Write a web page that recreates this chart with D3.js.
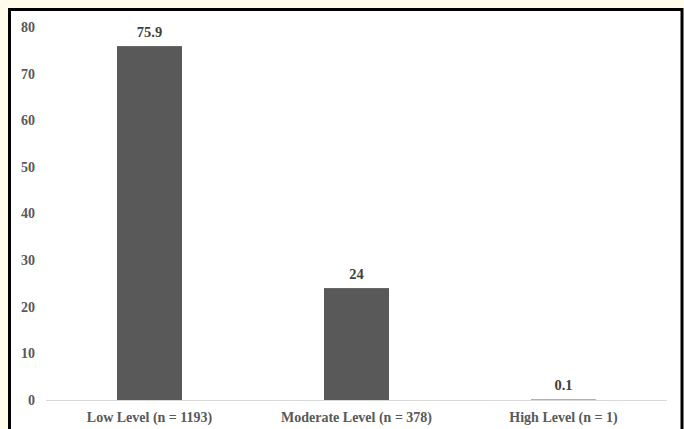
<!DOCTYPE html>
<html>
<head>
<meta charset="utf-8">
<script src="https://cdn.jsdelivr.net/npm/d3@7"></script>
<style>
  html, body { margin: 0; padding: 0; background: #fffcec; }
  svg { display: block; }
</style>
</head>
<body>
<script>
// Share of respondents by level
const categories = ["Low Level (n = 1193)", "Moderate Level (n = 378)", "High Level (n = 1)"];
const values = [75.9, 24, 0.1];
const valueLabels = ["75.9", "24", "0.1"];
const yTicks = [0, 10, 20, 30, 40, 50, 60, 70, 80];

const W = 684, H = 429;
const plot = { left: 46, right: 667, top: 27, bottom: 400 };

const svg = d3.select("body").append("svg")
  .attr("width", W).attr("height", H);

// framed white panel
svg.append("rect")
  .attr("x", 9.5).attr("y", 9.5)
  .attr("width", 672.5).attr("height", 440)
  .attr("fill", "#ffffff")
  .attr("stroke", "#000000")
  .attr("stroke-width", 3);

const x = d3.scaleBand()
  .domain(categories)
  .range([plot.left, plot.right])
  .paddingInner(0.686)
  .paddingOuter(0.343);

const y = d3.scaleLinear()
  .domain([0, 80])
  .range([plot.bottom, plot.top]);

const font = "'Liberation Serif', 'Times New Roman', serif";

// y axis labels only
const yAxis = d3.axisLeft(y).tickValues(yTicks).tickSize(0).tickPadding(0);
const gy = svg.append("g")
  .attr("transform", `translate(35,0)`)
  .call(yAxis);
gy.select(".domain").remove();
gy.selectAll("text")
  .attr("font-family", font)
  .attr("font-weight", "bold")
  .attr("font-size", 14)
  .attr("fill", "#595959");

// bars
svg.append("g").selectAll("rect")
  .data(values)
  .join("rect")
  .attr("x", (d, i) => x(categories[i]))
  .attr("y", d => y(d))
  .attr("width", x.bandwidth())
  .attr("height", d => Math.max(1, y(0) - y(d)))
  .attr("fill", "#595959");

// baseline
svg.append("line")
  .attr("x1", plot.left).attr("x2", plot.right)
  .attr("y1", y(0) + 0.5).attr("y2", y(0) + 0.5)
  .attr("stroke", "#d9d9d9")
  .attr("stroke-width", 1);

// value labels
svg.append("g").selectAll("text")
  .data(values)
  .join("text")
  .attr("x", (d, i) => x(categories[i]) + x.bandwidth() / 2)
  .attr("y", d => Math.min(y(d), y(0) - 1) - 9.5)
  .attr("text-anchor", "middle")
  .attr("font-family", font)
  .attr("font-weight", "bold")
  .attr("font-size", 14.5)
  .attr("fill", "#404040")
  .text((d, i) => valueLabels[i]);

// x axis category labels
const xAxis = d3.axisBottom(x).tickSize(0).tickPadding(0);
const gx = svg.append("g")
  .attr("transform", `translate(0,${plot.bottom + 12})`)
  .call(xAxis);
gx.select(".domain").remove();
gx.selectAll("text")
  .attr("font-family", font)
  .attr("font-weight", "bold")
  .attr("font-size", 14)
  .attr("fill", "#595959");
</script>
</body>
</html>
